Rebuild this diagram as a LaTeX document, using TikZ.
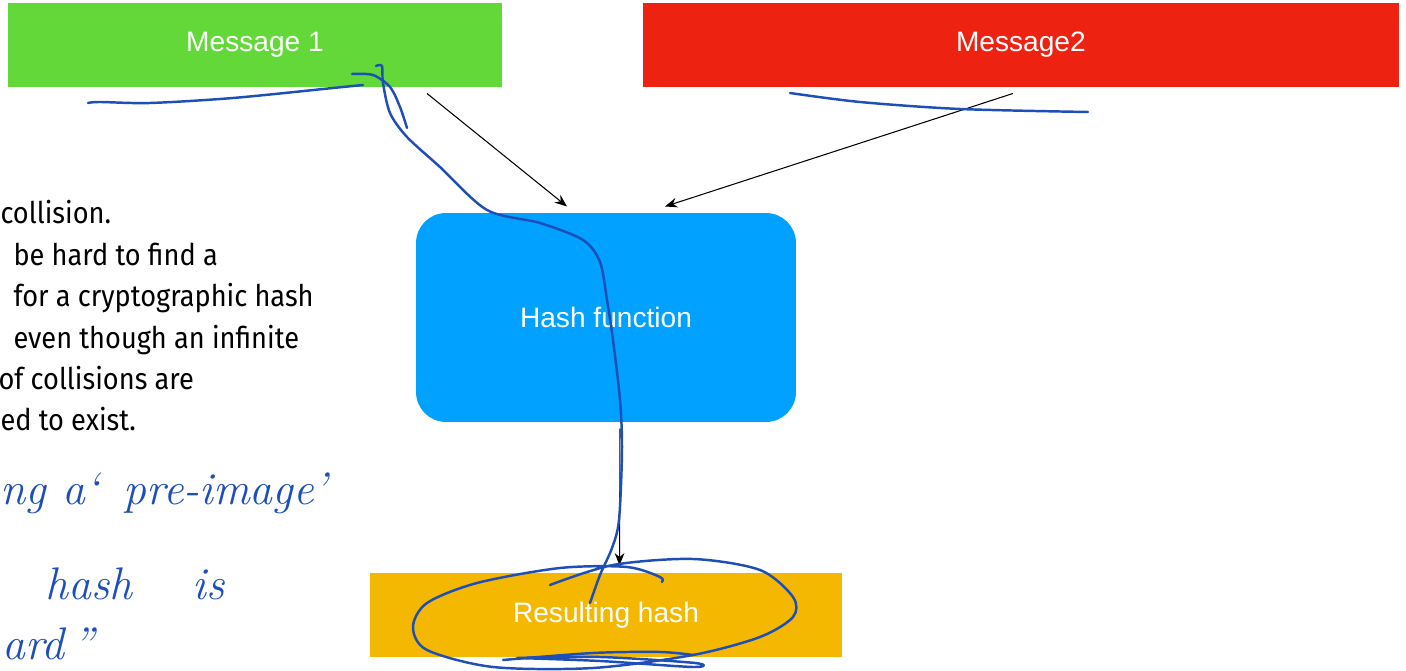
\documentclass[tikz,border=0pt]{standalone}
\usepackage{fontspec}
\newfontfamily\labelfont{Liberation Sans}
\newfontfamily\notefont{Fira Sans}[FakeStretch=0.91]
\usetikzlibrary{calc,arrows.meta}

\definecolor{msggreen}{HTML}{62D839}
\definecolor{msgred}{HTML}{EE2211}
\definecolor{hashblue}{HTML}{00A1FF}
\definecolor{resyellow}{HTML}{F5B800}
\definecolor{ink}{HTML}{1E4FB8}

\begin{document}
\begin{tikzpicture}[
    x = 0.02cm, y = -0.02cm, % one unit = one pixel of the slide
    > = {Stealth[length=7pt,width=5.5pt]}, % arrow head style
    semithick, % line style
  ]

  \tikzstyle{box}=[rectangle, inner sep=0pt, text=white, font=\labelfont\fontsize{16}{19}\selectfont]
  \tikzstyle{note}=[anchor=base west, inner sep=0pt, font=\notefont\fontsize{17}{20}\selectfont]
  \tikzstyle{scrawl}=[draw=ink, line width=1.4pt, line cap=round, line join=round]
  \tikzstyle{hand}=[anchor=base west, inner sep=0pt, text=ink, font=\itshape\fontsize{26}{30}\selectfont]

  \useasboundingbox (0,0) rectangle (1406,671);

  \node[box, fill=msggreen, minimum width=9.88cm, minimum height=1.68cm] (m1) at (255,45) {Message 1};
  \node[box, fill=msgred, minimum width=15.12cm, minimum height=1.68cm] (m2) [right of=m1, node distance=15.32cm] {Message2};
  \node[box, fill=hashblue, rounded corners=0.6cm, minimum width=7.6cm, minimum height=4.18cm] (hf) at (606,317.5) {Hash function};
  \node[box, fill=resyellow, minimum width=9.46cm, minimum height=1.68cm] (rh) [below of=hf, node distance=5.95cm] {Resulting hash};

  \draw[->] ($(m1.south)+(172,6)$) -- ($(hf.north)+(-39,-6)$);
  \draw[->] ($(m2.south)+(-8,6)$) -- ($(hf.north)+(59,-6)$);
  \draw[->] ($(hf.south)+(14,6)$) -- ($(rh.north)+(13.5,-7)$);

  % text cut off at the left edge of the slide
  \foreach \n/\dx/\txt in {1/0/collision., 2/13/be hard to find a, 3/13/for a cryptographic hash,
      4/13/even though an infinite, 5/-2/of collisions are, 6/0/ed to exist.}
    \node[note] (note\n) at (\dx,182.6+41.4*\n) {\txt};

  % pen annotations
  \node[hand] (hw1) at (0,505) {ng a‘\hspace{0.5cm}pre-image’};
  \node[hand] (hw2) at (45,600) {hash\hspace{1.2cm}is};
  \node[hand] (hw3) at (2,660) {ard\,”};

  \draw[scrawl] plot[smooth] coordinates {(88,103) (100,102) (150,103) (233,98) (333,88) (363,85)};
  \draw[scrawl] plot[smooth] coordinates {(352,74) (373,75) (390,87) (400,107) (407,128)};
  \draw[scrawl] plot[smooth] coordinates {(376,66) (382,66) (383,83) (390,113) (407,137) (440,167)
      (487,210) (540,223) (583,240) (600,262) (607,300) (613,340) (620,400) (622,450)
      (619,520) (612,548) (600,575) (590,603)};
  \draw[scrawl] plot[smooth] coordinates {(790,93) (860,102) (960,109) (1088,112)};
  \draw[scrawl] plot[smooth] coordinates {(550,585) (613,565) (693,559) (760,570) (793,597)
      (793,617) (760,637) (693,655) (593,668) (493,667) (427,650) (413,627) (427,603)
      (477,583) (560,568) (627,567) (660,577) (662,582)};
  \draw[scrawl] plot[smooth] coordinates {(503,660) (593,653) (660,652) (693,655)};
  \draw[scrawl] plot[smooth] coordinates {(517,658) (600,661) (693,667) (695,663) (600,657) (517,658)};

\end{tikzpicture}
\end{document}
